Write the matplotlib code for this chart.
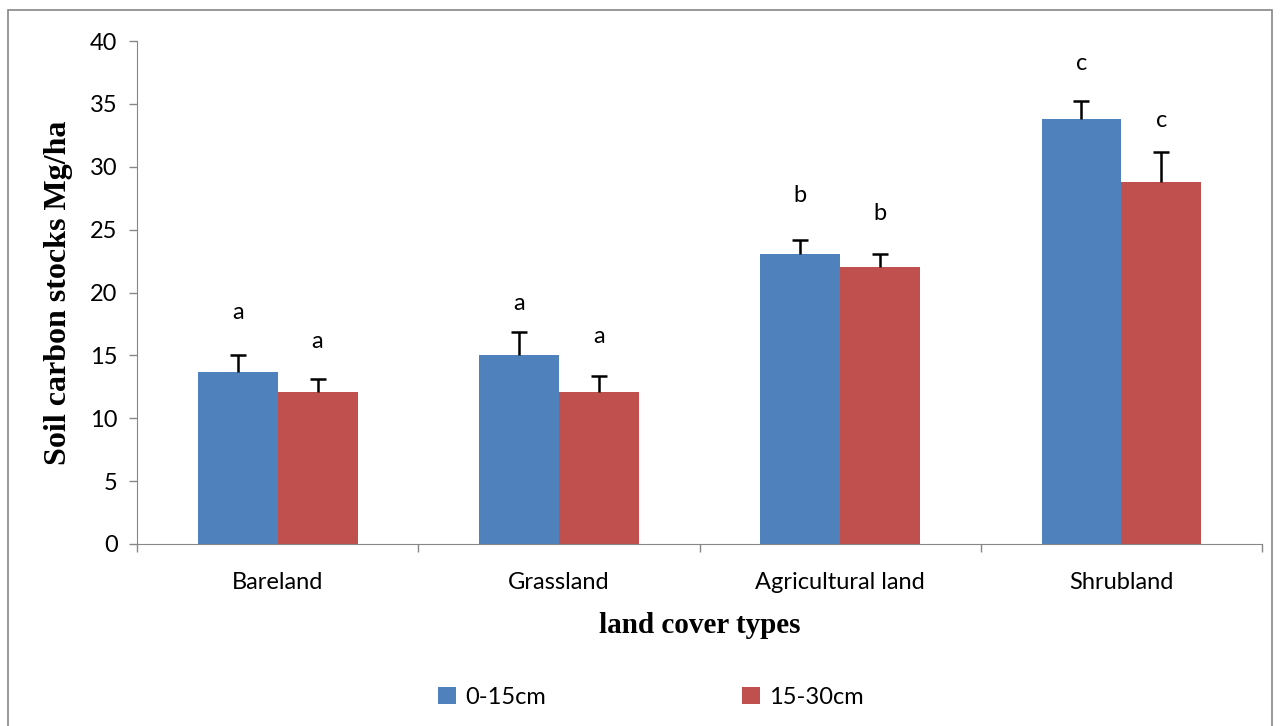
import matplotlib
matplotlib.use("Agg")
import matplotlib.pyplot as plt
from matplotlib.patches import Rectangle
import numpy as np

categories = ["Bareland", "Grassland", "Agricultural land", "Shrubland"]
depth_0_15 = [13.7, 15.0, 23.1, 33.8]
depth_15_30 = [12.1, 12.1, 22.0, 28.8]
err_0_15 = [1.3, 1.85, 1.05, 1.4]
err_15_30 = [1.0, 1.25, 1.05, 2.4]
letters_0_15 = ["a", "a", "b", "c"]
letters_15_30 = ["a", "a", "b", "c"]
letter_y_0_15 = [18.4, 19.1, 27.7, 38.2]
letter_y_15_30 = [16.1, 16.5, 26.3, 33.7]

blue = "#4F81BD"
red = "#C0504D"
sans = ["Lato", "DejaVu Sans"]
serif = ["Liberation Serif", "DejaVu Serif"]

fig = plt.figure(figsize=(12.8, 7.26), dpi=100)
ax = fig.add_axes([137/1280, 1-544/726, 1125/1280, 503/726])

x = np.arange(len(categories))
w = 0.284
ax.bar(x - w/2, depth_0_15, w, color=blue, label="0-15cm", zorder=2)
ax.bar(x + w/2, depth_15_30, w, color=red, label="15-30cm", zorder=2)

# upward-only error bars with a cap on top
for xs, vals, errs in [(x - w/2, depth_0_15, err_0_15), (x + w/2, depth_15_30, err_15_30)]:
    tops = np.array(vals) + np.array(errs)
    ax.vlines(xs, vals, tops, color="black", linewidth=1.8, zorder=3)
    ax.plot(xs, tops, ls="none", marker="_", markersize=11, markeredgewidth=1.8,
            color="black", zorder=3)

for i in range(len(categories)):
    ax.text(x[i] - w/2, letter_y_0_15[i], letters_0_15[i], ha="center", va="center",
            fontsize=17, family=sans)
    ax.text(x[i] + w/2, letter_y_15_30[i], letters_15_30[i], ha="center", va="center",
            fontsize=17, family=sans)

ax.set_xlim(-0.5, 3.5)
ax.set_ylim(0, 40)
ax.set_yticks(range(0, 41, 5))
ax.set_xticks(np.arange(-0.5, 4, 1))
ax.set_xticklabels([])
ax.set_xticks(x, minor=True)
ax.set_xticklabels(categories, minor=True, fontsize=17, family=sans)
ax.tick_params(axis="x", which="minor", length=0, pad=20)
ax.tick_params(axis="x", which="major", length=6, color="#868686", width=1)
ax.tick_params(axis="y", length=6, color="#868686", width=1, labelsize=17, pad=8)
for lab in ax.get_yticklabels():
    lab.set_family(sans)
for s in ["top", "right"]:
    ax.spines[s].set_visible(False)
for s in ["left", "bottom"]:
    ax.spines[s].set_color("#868686")

ax.set_ylabel("Soil carbon stocks Mg/ha", fontsize=23, fontweight="bold", family=serif, labelpad=12)
ax.set_xlabel("land cover types", fontsize=21, fontweight="bold", family=serif, labelpad=14)

leg = fig.legend(loc="center", bbox_to_anchor=(651/1280, 1-697/726), ncol=2, frameon=False,
                 prop={"family": sans, "size": 17}, handlelength=0.75, handleheight=0.75,
                 handletextpad=0.4, columnspacing=8.3)

fig.patches.append(Rectangle((8/1280, -0.05), 1264/1280, 1.05 - 10/726, transform=fig.transFigure,
                             fill=False, edgecolor="#868686", linewidth=1.2))

fig.savefig("out.png", dpi=100)
